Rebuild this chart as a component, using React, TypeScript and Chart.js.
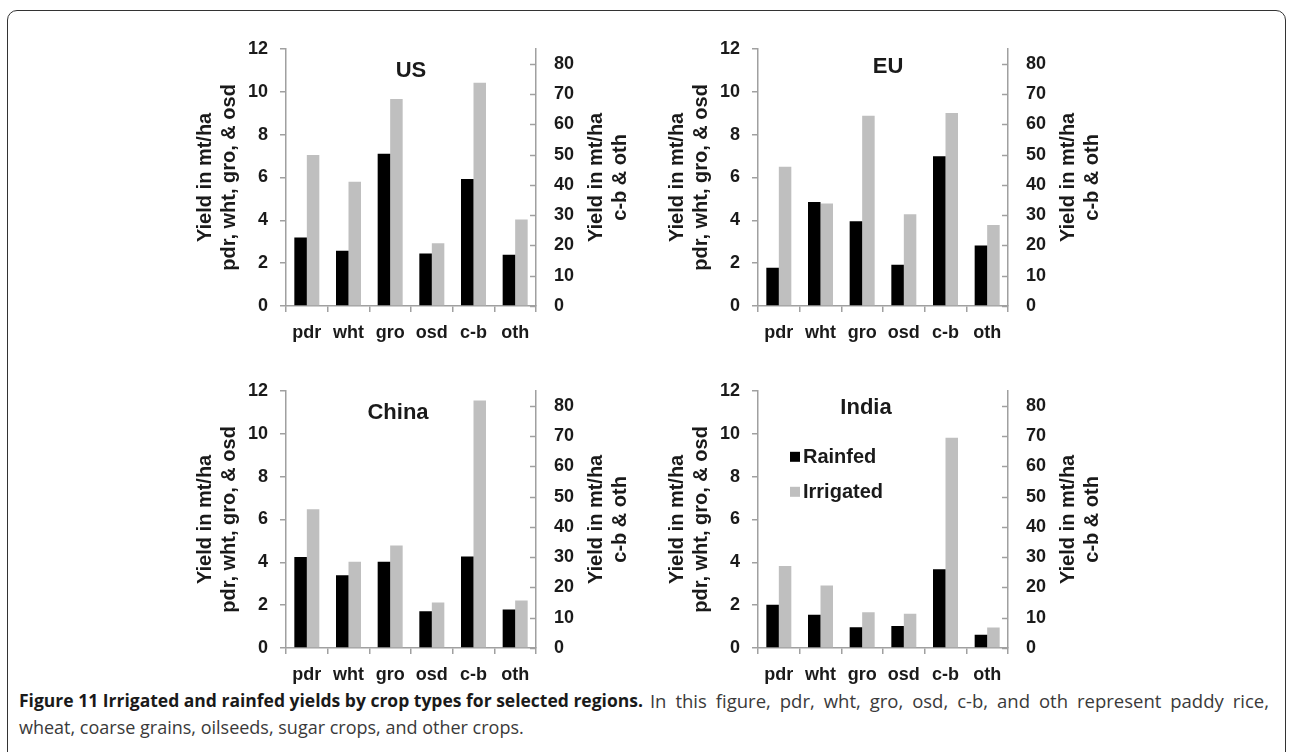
import React, { useEffect, useRef } from "react";
import { Chart, registerables } from "chart.js";

Chart.register(...registerables);

// ---------- data ----------
const categories = ["pdr", "wht", "gro", "osd", "c-b", "oth"];
// categories plotted on the right (secondary) axis
const rightAxisCategories = ["c-b", "oth"];
const seriesNames = ["Rainfed", "Irrigated"];

// values: pdr, wht, gro, osd in mt/ha (left axis); c-b, oth in mt/ha (right axis)
const usRainfed = [3.2, 2.58, 7.1, 2.45, 42.0, 16.9];
const usIrrigated = [7.05, 5.8, 9.66, 2.93, 73.8, 28.6];
const euRainfed = [1.78, 4.85, 3.95, 1.92, 49.5, 20.0];
const euIrrigated = [6.5, 4.78, 8.88, 4.28, 63.8, 26.8];
const chinaRainfed = [4.24, 3.4, 4.02, 1.72, 30.2, 12.7];
const chinaIrrigated = [6.47, 4.02, 4.78, 2.12, 81.8, 15.7];
const indiaRainfed = [2.02, 1.55, 0.97, 1.03, 26.0, 4.4];
const indiaIrrigated = [3.83, 2.92, 1.67, 1.6, 69.5, 6.8];

const leftAxisTitle = ["Yield in mt/ha", "pdr, wht, gro, & osd"];
const rightAxisTitle = ["Yield in mt/ha", "c-b & oth"];
const leftAxisMax = 12;
const leftAxisStep = 2;
const rightAxisMax = 85;
const rightAxisStep = 10;

const captionBold = "Figure 11 Irrigated and rainfed yields by crop types for selected regions.";
const captionLine1 =
  "In this figure, pdr, wht, gro, osd, c-b, and oth represent paddy rice,";
const captionLine2 = "wheat, coarse grains, oilseeds, sugar crops, and other crops.";

// ---------- styles ----------
const FONT = '"Liberation Sans", Arial, sans-serif';
const TEXT = "#1a1a1a";
const AXIS = "#a0a0a0";
const BLACK = "#000000";
const GREY = "#bfbfbf";

const CANVAS_W = 460;
const CANVAS_H = 325;
const PLOT_LEFT = 106;
const PLOT_W = 250;
const PLOT_TOP = 16;
const X_AXIS_H = 39;

type PanelCfg = {
  title: string;
  rainfed: number[];
  irrigated: number[];
  left: number;
  top: number;
  titleDx: number;
  titleDy: number;
  legend: boolean;
};

const panels: PanelCfg[] = [
  { title: "US", rainfed: usRainfed, irrigated: usIrrigated, left: 180, top: 20, titleDx: 0, titleDy: 22, legend: false },
  { title: "EU", rainfed: euRainfed, irrigated: euIrrigated, left: 652, top: 20, titleDx: 5, titleDy: 18, legend: false },
  { title: "China", rainfed: chinaRainfed, irrigated: chinaIrrigated, left: 180, top: 362, titleDx: -13, titleDy: 22, legend: false },
  { title: "India", rainfed: indiaRainfed, irrigated: indiaIrrigated, left: 652, top: 362, titleDx: -17, titleDy: 17, legend: true },
];

const isRight = (c: string) => rightAxisCategories.includes(c);
const leftPart = (arr: number[]) => categories.map((c, i) => (isRight(c) ? null : arr[i]));
const rightPart = (arr: number[]) => categories.map((c, i) => (isRight(c) ? arr[i] : null));

function drawRotated(ctx: CanvasRenderingContext2D, text: string, x: number, y: number) {
  ctx.save();
  ctx.translate(x, y);
  ctx.rotate(-Math.PI / 2);
  ctx.fillText(text, 0, 0);
  ctx.restore();
}

const panelPlugin = {
  id: "panelText",
  afterDraw(chart: any, _args: any, opts: any) {
    const { ctx, chartArea: ca } = chart;
    ctx.save();
    // inward tick marks on the right axis
    const y2 = chart.scales.y2;
    ctx.strokeStyle = AXIS;
    ctx.lineWidth = 1.5;
    y2.ticks.forEach((t: any) => {
      const py = Math.round(y2.getPixelForValue(t.value)) + 0.5;
      ctx.beginPath();
      ctx.moveTo(ca.right - 6, py);
      ctx.lineTo(ca.right, py);
      ctx.stroke();
    });
    ctx.fillStyle = TEXT;
    ctx.textAlign = "center";
    ctx.textBaseline = "middle";
    // panel title
    ctx.font = `bold 22px ${FONT}`;
    ctx.fillText(opts.title, (ca.left + ca.right) / 2 + opts.titleDx, ca.top + opts.titleDy);
    // axis titles
    ctx.font = `bold 20px ${FONT}`;
    const cy = (ca.top + ca.bottom) / 2;
    drawRotated(ctx, leftAxisTitle[0], ca.left - 81, cy);
    drawRotated(ctx, leftAxisTitle[1], ca.left - 57, cy);
    drawRotated(ctx, rightAxisTitle[0], ca.right + 60, cy);
    drawRotated(ctx, rightAxisTitle[1], ca.right + 84, cy);
    // legend
    if (opts.legend) {
      ctx.font = `bold 20px ${FONT}`;
      ctx.textAlign = "left";
      const items = [
        { label: seriesNames[0], color: BLACK, dy: 66 },
        { label: seriesNames[1], color: GREY, dy: 101 },
      ];
      items.forEach((it) => {
        const y = ca.top + it.dy;
        ctx.fillStyle = it.color;
        ctx.fillRect(ca.left + 32, y - 5, 10, 10);
        ctx.fillStyle = TEXT;
        ctx.fillText(it.label, ca.left + 45, y + 1);
      });
    }
    ctx.restore();
  },
};

function Panel({ cfg }: { cfg: PanelCfg }) {
  const ref = useRef<HTMLCanvasElement | null>(null);
  useEffect(() => {
    if (!ref.current) return;
    const tickFont = { family: FONT, size: 18, weight: "bold" as const };
    const chart = new Chart(ref.current, {
      type: "bar",
      data: {
        labels: categories,
        datasets: [
          { label: seriesNames[0], data: leftPart(cfg.rainfed), backgroundColor: BLACK, yAxisID: "y" },
          { label: seriesNames[1], data: leftPart(cfg.irrigated), backgroundColor: GREY, yAxisID: "y" },
          { label: seriesNames[0] + " (c-b & oth)", data: rightPart(cfg.rainfed), backgroundColor: BLACK, yAxisID: "y2" },
          { label: seriesNames[1] + " (c-b & oth)", data: rightPart(cfg.irrigated), backgroundColor: GREY, yAxisID: "y2" },
        ],
      },
      options: {
        responsive: false,
        animation: false,
        devicePixelRatio: 1,
        datasets: {
          bar: { skipNull: true, categoryPercentage: 0.6, barPercentage: 1.0, borderWidth: 0 },
        },
        layout: { padding: { top: PLOT_TOP, left: 0, right: 0, bottom: 0 } },
        plugins: {
          legend: { display: false },
          tooltip: { enabled: false },
          title: { display: false },
          panelText: { title: cfg.title, titleDx: cfg.titleDx, titleDy: cfg.titleDy, legend: cfg.legend },
        } as any,
        scales: {
          x: {
            type: "category",
            grid: { display: true, drawOnChartArea: false, drawTicks: true, tickLength: 6, color: AXIS, lineWidth: 1.5, offset: true },
            border: { display: true, color: AXIS, width: 1.5 },
            ticks: { font: tickFont, color: TEXT, padding: 10, maxRotation: 0, autoSkip: false },
            afterFit: (s: any) => {
              s.height = X_AXIS_H;
            },
          },
          y: {
            type: "linear",
            position: "left",
            min: 0,
            max: leftAxisMax,
            grid: { display: true, drawOnChartArea: false, drawTicks: true, tickLength: 6, color: AXIS, lineWidth: 1.5 },
            border: { display: true, color: AXIS, width: 1.5 },
            ticks: { stepSize: leftAxisStep, font: tickFont, color: TEXT, padding: 12 },
            afterFit: (s: any) => {
              s.width = PLOT_LEFT;
            },
          },
          y2: {
            type: "linear",
            position: "right",
            min: 0,
            max: rightAxisMax,
            bounds: "data",
            grid: { display: true, drawOnChartArea: false, drawTicks: false, color: AXIS, lineWidth: 1.5 },
            border: { display: true, color: AXIS, width: 1.5 },
            ticks: { stepSize: rightAxisStep, includeBounds: false, font: tickFont, color: TEXT, padding: 18 },
            afterBuildTicks: (s: any) => {
              s.ticks = s.ticks.filter((t: any) => Math.abs(t.value % rightAxisStep) < 1e-9);
            },
            afterFit: (s: any) => {
              s.width = CANVAS_W - PLOT_LEFT - PLOT_W;
            },
          },
        },
      },
      plugins: [panelPlugin as any],
    });
    return () => chart.destroy();
  }, [cfg]);
  return (
    <canvas
      ref={ref}
      width={CANVAS_W}
      height={CANVAS_H}
      style={{ position: "absolute", left: cfg.left, top: cfg.top, width: CANVAS_W, height: CANVAS_H }}
    />
  );
}

export default function App() {
  const captionFont = '"Open Sans", sans-serif';
  return (
    <div
      style={{
        position: "fixed",
        left: 0,
        top: 0,
        width: 1289,
        height: 752,
        overflow: "hidden",
        background: "#ffffff",
      }}
    >
      <div
        style={{
          position: "absolute",
          left: 7,
          top: 10,
          width: 1277,
          height: 900,
          border: "1.5px solid #333",
          borderRadius: 10,
        }}
      />
      {panels.map((p) => (
        <Panel key={p.title} cfg={p} />
      ))}
      <div
        style={{
          position: "absolute",
          left: 19,
          top: 687,
          width: 1250,
          display: "flex",
          fontFamily: captionFont,
          lineHeight: "27px",
          color: "#3a3a3a",
        }}
      >
        <span style={{ fontWeight: "bold", fontSize: 17.5, color: "#1a1a1a", whiteSpace: "nowrap" }}>
          {captionBold}
        </span>
        <span
          style={{
            flex: 1,
            marginLeft: 7,
            fontSize: 18.5,
            textAlign: "justify",
            textAlignLast: "justify" as any,
          }}
        >
          {captionLine1}
        </span>
      </div>
      <div
        style={{
          position: "absolute",
          left: 19,
          top: 714,
          fontFamily: captionFont,
          fontSize: 18,
          lineHeight: "27px",
          whiteSpace: "nowrap",
          color: "#3a3a3a",
        }}
      >
        {captionLine2}
      </div>
    </div>
  );
}
